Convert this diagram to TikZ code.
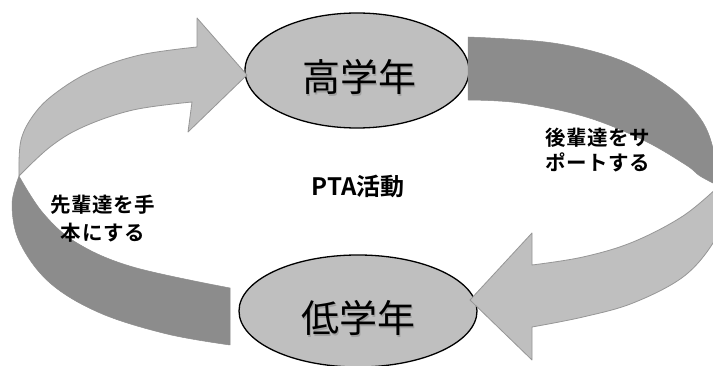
\documentclass[tikz,border=0pt]{standalone}
\usepackage{fontspec}
\usetikzlibrary{shapes.geometric}
\newfontfamily\jp{Noto Sans CJK JP}
\IfFontExistsTF{Noto Sans CJK JP Bold}{%
  \newfontfamily\jpb{Noto Sans CJK JP Bold}%
  \newfontfamily\jplab[LetterSpace=3]{Noto Sans CJK JP Bold}%
}{%
  \newfontfamily\jpb[FakeBold=2.5]{Noto Sans CJK JP}%
  \newfontfamily\jplab[FakeBold=2.5,LetterSpace=3]{Noto Sans CJK JP}%
}
\definecolor{lightband}{RGB}{191,191,191}
\definecolor{darkband}{RGB}{140,140,140}
\definecolor{bandedge}{RGB}{150,150,150}
\definecolor{ellfill}{RGB}{191,191,191}
\tikzset{
  lightpart/.style={fill=lightband, draw=bandedge, line width=0.8pt, line join=round},
  darkpart/.style={fill=darkband, draw=darkband, line width=0.5pt, line join=round},
  grade/.style={ellipse, draw=black, line width=1.3pt, fill=ellfill, inner sep=0pt},
  gradetext/.style={font=\jp\fontsize{38}{40}\selectfont, text=black},
  gradeshadow/.style={font=\jp\fontsize{38}{40}\selectfont, text=black!45, opacity=0.6},
  sidelabel/.style={align=center, text=black, inner sep=0pt},
}
\begin{document}
\begin{tikzpicture}[x=1pt,y=-1pt]
\useasboundingbox (0,0) rectangle (713,366);
\clip (0,0) rectangle (713,366);
\fill[white] (0,0) rectangle (713,366);

% ellipses
\node[grade, minimum width=224pt, minimum height=115pt] (high) at (357,70.5) {};
\node[grade, minimum width=238pt, minimum height=112pt] (low) at (358,311) {};

% left arrow: lower dark part
\path[darkpart] plot[smooth, tension=0.6] coordinates {(19,176) (12,205) (20,243) (50,283) (100,313) (167,334) (230,345)}
  -- (230,288)
  -- plot[smooth, tension=0.6] coordinates {(230,288) (133,267) (77,243) (43,213) (19,176)} -- cycle;
% left arrow: upper light part with head
\path[lightpart] plot[smooth, tension=0.6] coordinates {(19,176) (21,140) (35,113) (57,92) (92,71) (140,55) (197,47)}
  -- (197,18) -- (247,75) -- (188,132) -- (192,102)
  -- plot[smooth, tension=0.6] coordinates {(192,102) (133,110) (83,127) (50,147) (19,176)} -- cycle;

% right arrow: upper dark part
\path[darkpart] (468,37)
  -- plot[smooth, tension=0.6] coordinates {(468,37) (553,43) (620,60) (670,88) (700,118) (713,148) (719,186)}
  -- plot[smooth, tension=0.6] coordinates {(719,186) (700,176) (686,165) (643,140) (586,117) (520,103) (468,100)} -- cycle;
% right arrow: lower light part with head
\path[lightpart] plot[smooth, tension=0.6] coordinates {(719,186) (683,216) (633,242) (583,257) (532,265)}
  -- (532,233) -- (470,300) -- (532,360) -- (532,327)
  -- plot[smooth, tension=0.6] coordinates {(532,327) (583,317) (633,303) (683,277) (713,243) (722,215) (719,186)} -- cycle;

% texts
\node[gradeshadow] (highshadow) at (360.5,78.5) {高学年};
\node[gradetext] (hightext) at (359,77) {高学年};
\node[gradeshadow] (lowshadow) at (359.5,319.5) {低学年};
\node[gradetext] (lowtext) at (358,318) {低学年};
\node[font=\jpb\fontsize{24}{28}\selectfont] (pta) at (358,186) {PTA活動};
\node[sidelabel, font=\jplab\fontsize{20.5}{28}\selectfont] (leftlab) at (103,219) {先輩達を手\\本にする};
\node[sidelabel, font=\jplab\fontsize{20.5}{25}\selectfont] (rightlab) at (598,150.5) {後輩達をサ\\ポートする};
\end{tikzpicture}
\end{document}
